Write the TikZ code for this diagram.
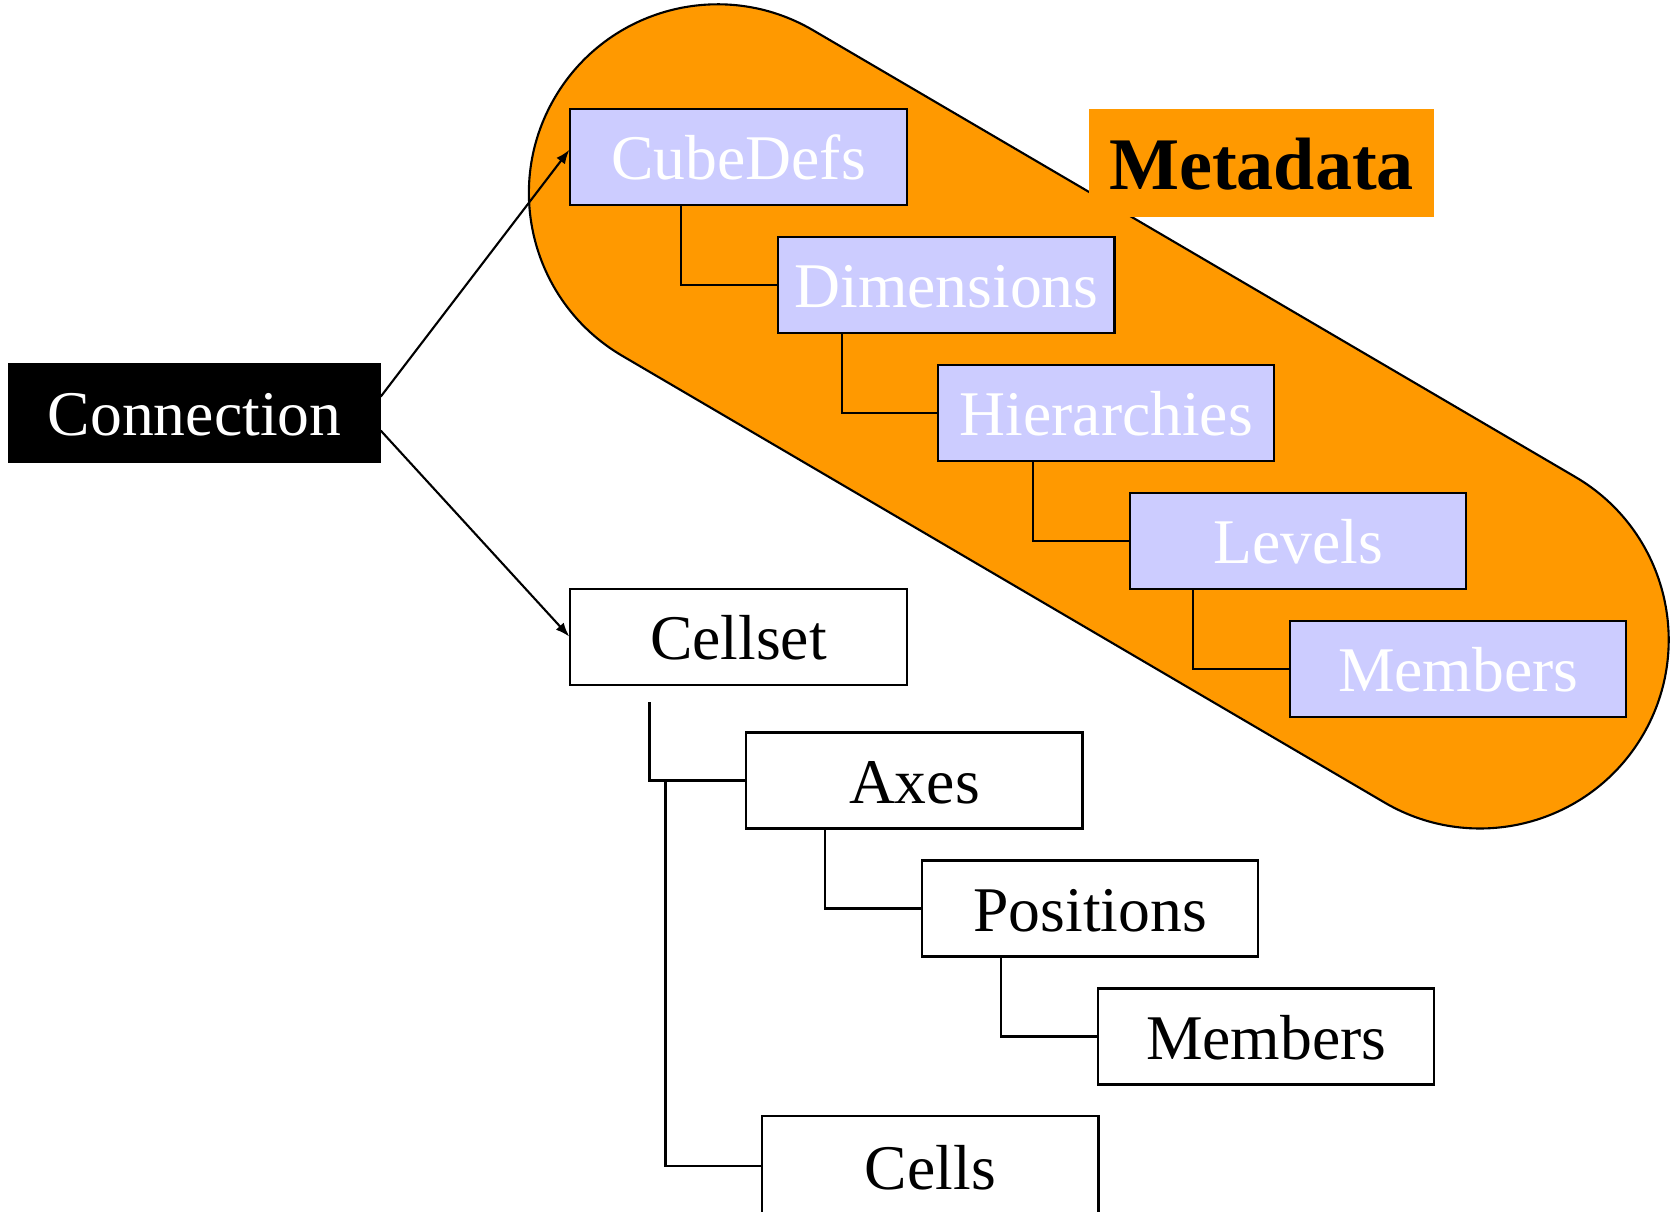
\documentclass[tikz,border=0pt]{standalone}
\usepackage{fontspec}
\setmainfont{Liberation Serif}
\usetikzlibrary{arrows.meta,calc}
\definecolor{blobOrange}{HTML}{FF9900}
\definecolor{metaBlue}{HTML}{CCCCFF}

\begin{document}
\begin{tikzpicture}[x=0.01cm,y=0.01cm,
  box/.style={draw=black,line width=0.6pt,minimum width=3.36cm,minimum height=0.96cm,
    inner sep=0pt,font=\fontsize{18.1}{21}\selectfont,text height=13pt,text depth=0pt},
  metabox/.style={box,fill=metaBlue,text=white},
  databox/.style={box,fill=white,text=black},
  link/.style={line width=0.6pt},
  arrowlink/.style={line width=0.6pt,-{Latex[length=4pt,width=3pt]}}]

% page frame
\useasboundingbox (0,0) rectangle (1672,-1211);
\clip (0,0) rectangle (1672,-1211);

% orange capsule grouping the metadata objects
\begin{scope}[shift={(717.6,-193.0)},rotate=-30.37]
  \draw[fill=blobOrange,line width=0.6pt]
    (0,188.7) -- (883.7,188.7) arc[start angle=90,end angle=-90,radius=188.7]
    -- (0,-188.7) arc[start angle=270,end angle=90,radius=188.7] -- cycle;
\end{scope}

% capsule title
\node[fill=blobOrange,minimum width=3.455cm,minimum height=1.087cm,inner sep=0pt,
  font=\fontsize{21.1}{24}\selectfont\bfseries,text height=15pt,text depth=0pt]
  (metaLabel) at (1261.5,-163.1) {Metadata};

% root object
\node[box,fill=black,text=white,minimum width=3.70cm,minimum height=0.98cm]
  (conn) at (194.6,-412.6) {Connection};

% metadata hierarchy
\node[metabox] (cube) at (738.5,-156.8) {CubeDefs};
\node[metabox] (dim)  at (946.4,-284.7) {Dimensions};
\node[metabox] (hier) at (1106.3,-412.7) {Hierarchies};
\node[metabox] (lev)  at (1298.3,-540.6) {Levels};
\node[metabox] (memA) at (1458.2,-668.6) {Members};

% data hierarchy
\node[databox] (cellset) at (738.5,-636.6) {Cellset};
\node[databox] (axes)    at (914.4,-780.5) {Axes};
\node[databox] (pos)     at (1090.3,-908.5) {Positions};
\node[databox] (memB)    at (1266.3,-1036.5) {Members};
\node[databox,minimum height=1.0cm] (cells) at (930.4,-1166.4) {Cells};

% tree links, metadata side
\draw[link] ($(cube.south west)+(111.9,0)$) |- (dim.west);
\draw[link] ($(dim.south west)+(65,0)$) |- (hier.west);
\draw[link] ($(hier.south west)+(96,0)$) |- (lev.west);
\draw[link] ($(lev.south west)+(64,0)$) |- (memA.west);

% tree links, data side
\coordinate (csTop) at ($(cellset.south west)+(80.2,-16.4)$);
\coordinate (csKnee) at (csTop |- axes.west);
\draw[link] (csTop) -- (csKnee) -- (axes.west);
\draw[link] ($(csKnee)+(16,0)$) |- (cells.west);
\draw[link] ($(axes.south west)+(80,0)$) |- (pos.west);
\draw[link] ($(pos.south west)+(80,0)$) |- (memB.west);

% connection arrows
\draw[arrowlink] ($(conn.east)+(0,16)$) -- ($(cube.west)+(0,7)$);
\draw[arrowlink] ($(conn.east)+(0,-18)$) -- (cellset.west);
\end{tikzpicture}
\end{document}
